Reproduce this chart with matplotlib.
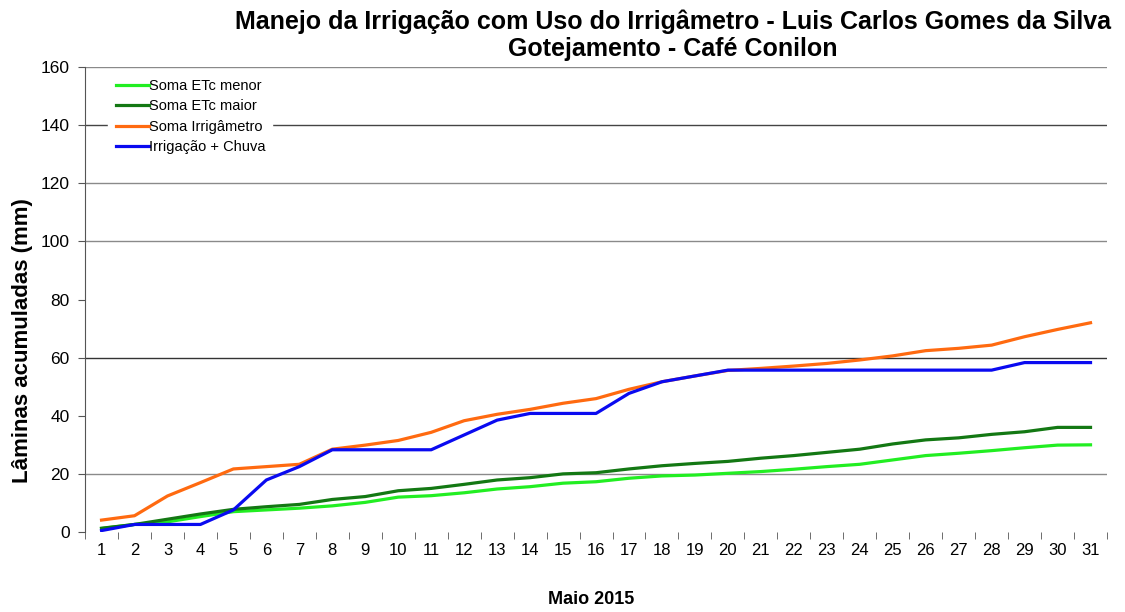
import numpy as np
import matplotlib.pyplot as plt

plt.rcParams["font.family"] = ["Liberation Sans", "DejaVu Sans"]

# ============= Data =============

dias = list(range(1, 32))

etc_menor = [1.2, 2.6, 3.5, 5.3, 7.0, 7.6, 8.2, 9.0, 10.2, 12.0,
             12.5, 13.5, 14.8, 15.6, 16.8, 17.3, 18.5, 19.3, 19.6, 20.2,
             20.8, 21.6, 22.5, 23.3, 24.8, 26.3, 27.1, 28.0, 29.0, 29.9, 30.0]

etc_maior = [1.3, 2.6, 4.4, 6.2, 7.8, 8.7, 9.5, 11.2, 12.2, 14.2,
             15.0, 16.4, 17.9, 18.7, 20.0, 20.4, 21.7, 22.8, 23.6, 24.3,
             25.4, 26.3, 27.4, 28.5, 30.3, 31.7, 32.4, 33.6, 34.5, 36.0, 36.0]

irrigametro = [4.1, 5.6, 12.4, 17.0, 21.7, 22.5, 23.3, 28.5, 29.9, 31.5,
               34.3, 38.3, 40.5, 42.2, 44.3, 45.9, 49.1, 51.7, 53.7, 55.6,
               56.3, 57.1, 58.0, 59.2, 60.6, 62.4, 63.2, 64.3, 67.2, 69.7, 72.0]

irrig_chuva = [0.5, 2.6, 2.6, 2.6, 7.6, 17.9, 22.5, 28.3, 28.3, 28.3,
               28.3, 33.4, 38.5, 40.8, 40.8, 40.8, 47.7, 51.7, 53.7, 55.7,
               55.7, 55.7, 55.7, 55.7, 55.7, 55.7, 55.7, 55.7, 58.3, 58.3, 58.3]

series = [
    ("Soma ETc menor", etc_menor, "#22ee22"),
    ("Soma ETc maior", etc_maior, "#137813"),
    ("Soma Irrigâmetro", irrigametro, "#ff6a10"),
    ("Irrigação + Chuva", irrig_chuva, "#0a0af0"),
]

# ============= Plot =============

fig = plt.figure(figsize=(11.25, 6.12), dpi=100)
ax = fig.add_axes([0.0756, 0.1307, 0.9084, 0.7598])

for nome, valores, cor in series:
    ax.plot(dias, valores, color=cor, lw=2.3, label=nome, zorder=3)

ax.set_xlim(0.5, 31.5)
ax.set_ylim(0, 160)

# horizontal guide lines
for y, cor in [(20, "#8a8a8a"), (60, "#333333"), (100, "#8a8a8a"),
               (120, "#8a8a8a"), (140, "#444444"), (160, "#8a8a8a")]:
    ax.axhline(y, color=cor, lw=1.0, zorder=1)

ax.set_yticks(np.arange(0, 161, 20))
ax.tick_params(axis="y", length=5, color="#555555", labelsize=12.5, pad=6)

ax.set_xticks(dias)
ax.set_xticks(np.arange(0.5, 31.6, 1), minor=True)
ax.tick_params(axis="x", which="major", length=0, labelsize=12, pad=8)
ax.tick_params(axis="x", which="minor", length=5, color="#555555")

for s in ["top", "right", "bottom"]:
    ax.spines[s].set_visible(False)
ax.spines["left"].set_color("#555555")

fig.text(0.0196, 0.443, "Lâminas acumuladas (mm)", rotation=90, ha="center",
         va="center", fontsize=16, fontweight="bold")
fig.text(0.525, 0.02, "Maio 2015", ha="center", va="center",
         fontsize=13, fontweight="bold")

fig.text(0.598, 0.985, "Manejo da Irrigação com Uso do Irrigâmetro - Luis Carlos Gomes da Silva\n"
         "Gotejamento - Café Conilon", ha="center", va="top", fontsize=18,
         fontweight="bold", linespacing=1.2)

leg = ax.legend(loc="upper left", bbox_to_anchor=(0.0157, 1.006), fontsize=10.5,
                frameon=True, fancybox=False, edgecolor="white", framealpha=1,
                handlelength=2.26, handletextpad=0.0, labelspacing=0.45,
                borderpad=0.5)
leg.set_zorder(5)

fig.savefig("out.png", dpi=100)
